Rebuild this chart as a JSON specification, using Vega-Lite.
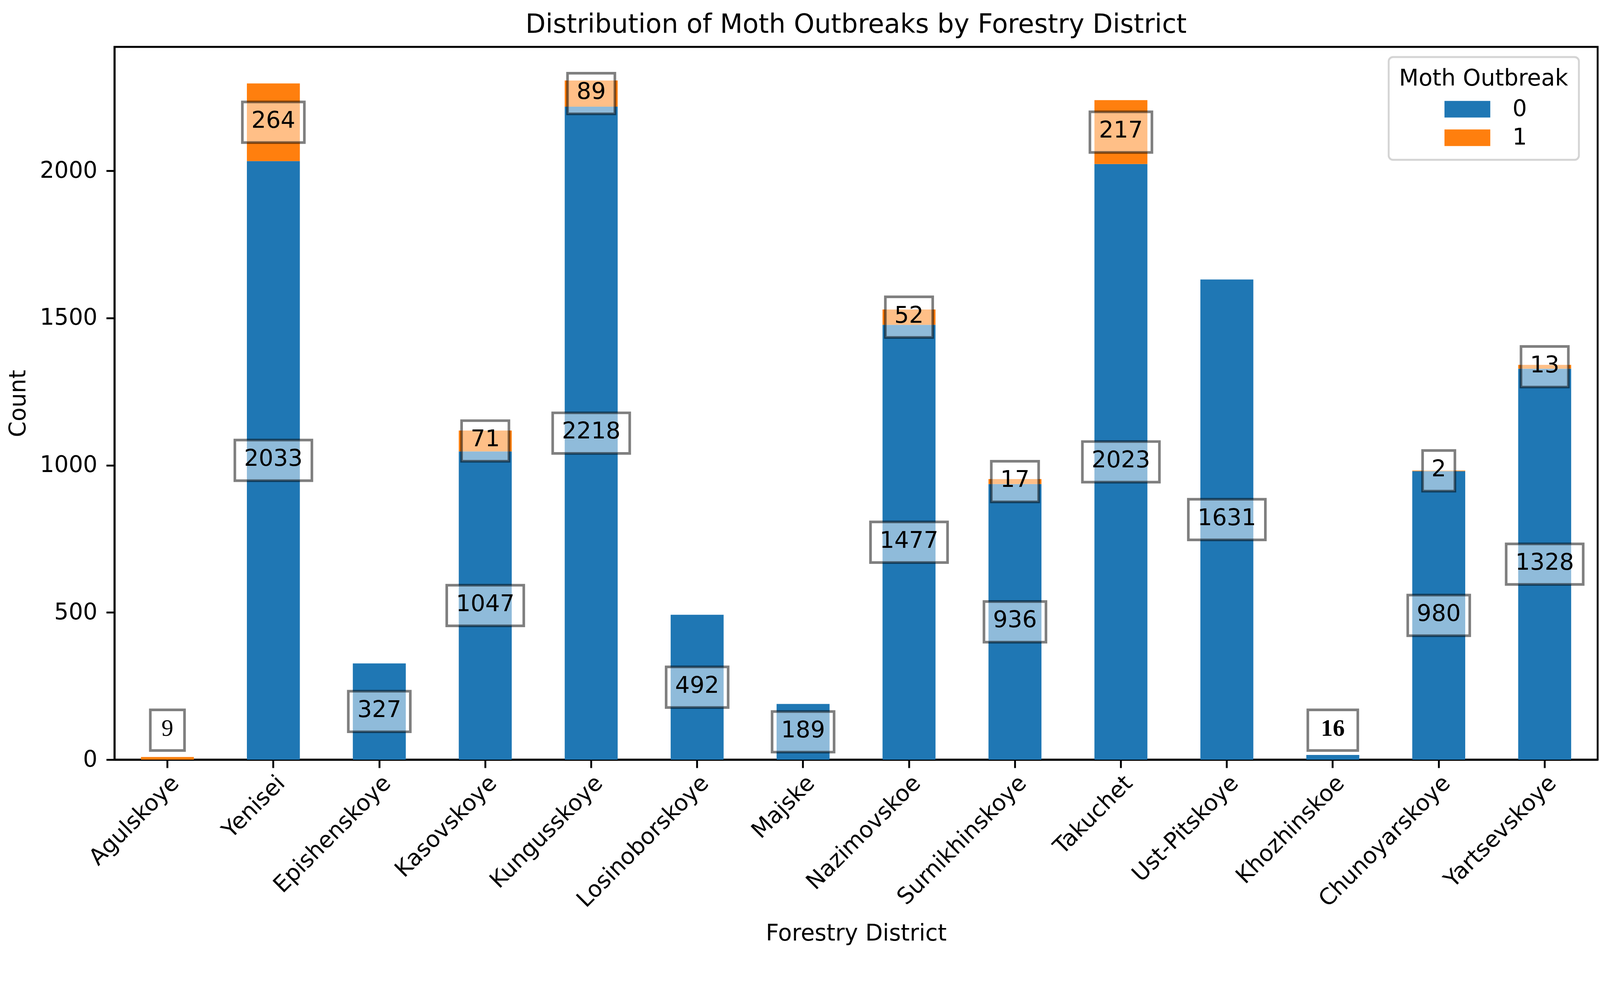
{
  "$schema": "https://vega.github.io/schema/vega-lite/v6.json",
  "width": 3797,
  "height": 1824,
  "autosize": {"type": "none"},
  "padding": {"left": 293, "top": 120, "right": 33, "bottom": 512},
  "background": "white",
  "config": {
    "font": "DejaVu Sans",
    "view": {"stroke": "black", "strokeWidth": 4.8},
    "axis": {"grid": false, "domainColor": "black", "domainWidth": 4.8, "tickColor": "black", "tickWidth": 4.8, "tickSize": 21, "labelColor": "black", "titleColor": "black", "labelFontSize": 58, "titleFontSize": 58, "titleFontWeight": "normal"},
    "legend": {"strokeWidth": 4.8}
  },
  "title": {"text": "Distribution of Moth Outbreaks by Forestry District", "fontSize": 67, "fontWeight": "normal", "anchor": "middle", "baseline": "alphabetic", "offset": -31, "color": "black"},
  "data": {"values": [
    {"district": "Agulskoye", "outbreak": 0, "count": 0},
    {"district": "Agulskoye", "outbreak": 1, "count": 9},
    {"district": "Yenisei", "outbreak": 0, "count": 2033},
    {"district": "Yenisei", "outbreak": 1, "count": 264},
    {"district": "Epishenskoye", "outbreak": 0, "count": 327},
    {"district": "Epishenskoye", "outbreak": 1, "count": 0},
    {"district": "Kasovskoye", "outbreak": 0, "count": 1047},
    {"district": "Kasovskoye", "outbreak": 1, "count": 71},
    {"district": "Kungusskoye", "outbreak": 0, "count": 2218},
    {"district": "Kungusskoye", "outbreak": 1, "count": 89},
    {"district": "Losinoborskoye", "outbreak": 0, "count": 492},
    {"district": "Losinoborskoye", "outbreak": 1, "count": 0},
    {"district": "Majske", "outbreak": 0, "count": 189},
    {"district": "Majske", "outbreak": 1, "count": 0},
    {"district": "Nazimovskoe", "outbreak": 0, "count": 1477},
    {"district": "Nazimovskoe", "outbreak": 1, "count": 52},
    {"district": "Surnikhinskoye", "outbreak": 0, "count": 936},
    {"district": "Surnikhinskoye", "outbreak": 1, "count": 17},
    {"district": "Takuchet", "outbreak": 0, "count": 2023},
    {"district": "Takuchet", "outbreak": 1, "count": 217},
    {"district": "Ust-Pitskoye", "outbreak": 0, "count": 1631},
    {"district": "Ust-Pitskoye", "outbreak": 1, "count": 0},
    {"district": "Khozhinskoe", "outbreak": 0, "count": 16},
    {"district": "Khozhinskoe", "outbreak": 1, "count": 0},
    {"district": "Chunoyarskoye", "outbreak": 0, "count": 980},
    {"district": "Chunoyarskoye", "outbreak": 1, "count": 2},
    {"district": "Yartsevskoye", "outbreak": 0, "count": 1328},
    {"district": "Yartsevskoye", "outbreak": 1, "count": 13}
  ]},
  "transform": [
    {"joinaggregate": [{"op": "sum", "field": "count", "as": "total"}], "groupby": ["district"]},
    {"stack": "count", "groupby": ["district"], "sort": [{"field": "outbreak", "order": "ascending"}], "as": ["y0", "y1"]},
    {"calculate": "datum.total < 50 ? 100 : (datum.y0 + datum.y1) / 2", "as": "label_y"},
    {"calculate": "(datum.total < 50 ? 'r' : 's') + length(toString(datum.count))", "as": "boxkey"}
  ],
  "encoding": {
    "x": {
      "field": "district", "type": "nominal",
      "sort": ["Agulskoye", "Yenisei", "Epishenskoye", "Kasovskoye", "Kungusskoye", "Losinoborskoye", "Majske", "Nazimovskoe", "Surnikhinskoye", "Takuchet", "Ust-Pitskoye", "Khozhinskoe", "Chunoyarskoye", "Yartsevskoye"],
      "scale": {"paddingInner": 0.5, "paddingOuter": 0.25},
      "axis": {"title": "Forestry District", "labelAngle": -45, "labelPadding": 9.6, "labelLimit": 0, "titleY": 445, "titleBaseline": "middle"}
    }
  },
  "layer": [
    {
      "mark": {"type": "bar"},
      "encoding": {
        "y": {"field": "y0", "type": "quantitative", "title": "Count", "scale": {"domain": [0, 2421], "nice": false, "zero": true},
              "axis": {"values": [0, 500, 1000, 1500, 2000], "format": "d", "labelPadding": 23, "titleX": -246, "titleBaseline": "middle"}},
        "y2": {"field": "y1"},
        "color": {
          "field": "outbreak", "type": "nominal",
          "scale": {"domain": [0, 1], "range": ["#1f77b4", "#ff7f0e"]},
          "legend": {"title": "Moth Outbreak", "orient": "none", "legendX": 3262, "legendY": 26, "titleFontSize": 58, "titleFontWeight": "normal", "titleAnchor": "middle", "titleColor": "black", "titleLimit": 2000, "labelFontSize": 58, "labelColor": "black", "symbolType": "M-1.386,-0.5H1.386V0.5H-1.386Z", "symbolSize": 7159, "symbolStrokeWidth": 0, "symbolFillOpacity": 1, "symbolOffset": 27, "labelOffset": 73, "rowPadding": 1, "titlePadding": 6, "padding": 27, "fillColor": "white", "strokeColor": "#d4d4d4", "cornerRadius": 11}
        }
      }
    },
    {
      "transform": [{"filter": "datum.count > 0"}],
      "mark": {"type": "point", "filled": true, "fill": "white", "fillOpacity": 0.5, "stroke": "black", "strokeOpacity": 0.5, "strokeWidth": 6.7, "size": 9254},
      "encoding": {
        "y": {"field": "label_y", "type": "quantitative", "title": "Count", "scale": {"domain": [0, 2421], "nice": false}},
        "shape": {"field": "boxkey", "type": "nominal", "legend": null,
          "scale": {"domain": ["s1", "s2", "s3", "s4", "r1", "r2"],
                    "range": ["M-0.86,-1.08H0.86V1.08H-0.86Z", "M-1.26,-1.08H1.26V1.08H-1.26Z", "M-1.65,-1.08H1.65V1.08H-1.65Z", "M-2.05,-1.08H2.05V1.08H-2.05Z", "M-0.91,-1.08H0.91V1.08H-0.91Z", "M-1.33,-1.08H1.33V1.08H-1.33Z"]}}
      }
    },
    {
      "transform": [{"filter": "datum.count > 0 && datum.total >= 50"}],
      "mark": {"type": "text", "font": "DejaVu Sans", "fontSize": 59, "color": "black", "baseline": "middle", "align": "center", "dy": -4},
      "encoding": {
        "y": {"field": "label_y", "type": "quantitative", "title": "Count", "scale": {"domain": [0, 2421], "nice": false}},
        "text": {"field": "count", "type": "quantitative"}
      }
    },
    {
      "transform": [{"filter": "datum.count > 0 && datum.total < 50 && datum.district == 'Agulskoye'"}],
      "mark": {"type": "text", "font": "Liberation Serif", "fontSize": 61, "color": "black", "baseline": "middle", "align": "center", "dy": -4},
      "encoding": {
        "y": {"field": "label_y", "type": "quantitative", "title": "Count", "scale": {"domain": [0, 2421], "nice": false}},
        "text": {"field": "count", "type": "quantitative"}
      }
    },
    {
      "transform": [{"filter": "datum.count > 0 && datum.total < 50 && datum.district == 'Khozhinskoe'"}],
      "mark": {"type": "text", "font": "Liberation Serif", "fontSize": 61, "fontWeight": "bold", "color": "black", "baseline": "middle", "align": "center", "dy": -4},
      "encoding": {
        "y": {"field": "label_y", "type": "quantitative", "title": "Count", "scale": {"domain": [0, 2421], "nice": false}},
        "text": {"field": "count", "type": "quantitative"}
      }
    }
  ]
}
